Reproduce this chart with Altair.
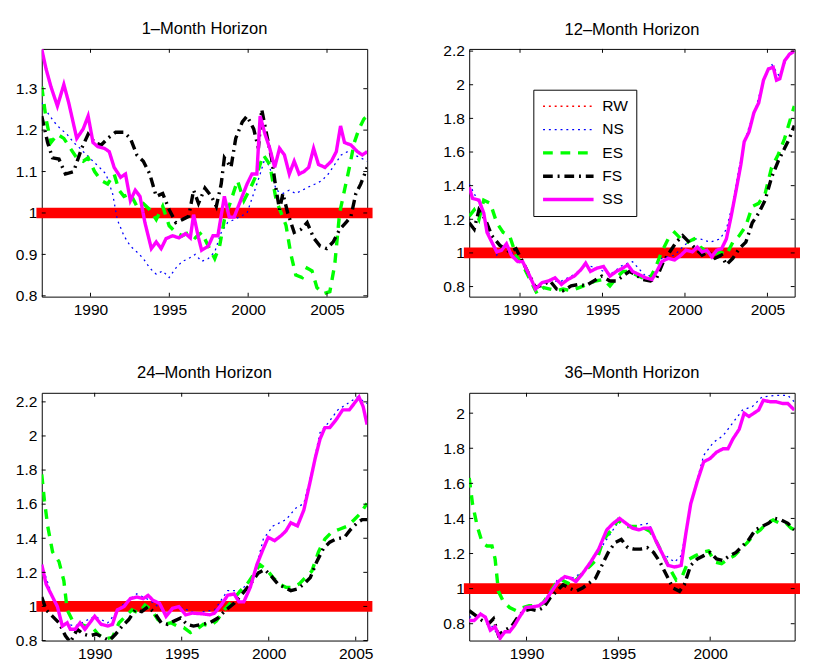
import altair as alt
import pandas as pd

FONT = "Liberation Sans"

SERIES = ["RW", "NS", "ES", "FS", "SS"]
COLORS = ["#ff0000", "#0000ff", "#00ff00", "#000000", "#ff00ff"]
DASHES = [[2, 4], [2, 4], [10, 8], [10, 5, 2, 5], [1, 0]]
WIDTHS = [1.4, 1.3, 3.5, 3.5, 3.5]

TITLES = ["1\u2013Month Horizon", "12\u2013Month Horizon", "24\u2013Month Horizon", "36\u2013Month Horizon"]
TITLE_DY = [0, 5.75, 0, 0]
X_DOMAINS = [[1986.91, 2007.55], [1986.92, 2006.65], [1986.96, 2005.66], [1986.88, 2004.6]]
Y_DOMAINS = [[0.798, 1.396], [0.74, 2.213], [0.8, 2.253], [0.704, 2.116]]
X_TICKS = [[1990, 1995, 2000, 2005], [1990, 1995, 2000, 2005], [1990, 1995, 2000, 2005], [1990, 1995, 2000]]
Y_TICKS = [
    [0.8, 0.9, 1.0, 1.1, 1.2, 1.3],
    [0.8, 1.0, 1.2, 1.4, 1.6, 1.8, 2.0, 2.2],
    [0.8, 1.0, 1.2, 1.4, 1.6, 1.8, 2.0, 2.2],
    [0.8, 1.0, 1.2, 1.4, 1.6, 1.8, 2.0],
]

# ---------------- 1-Month horizon ----------------
H1_RW = [(1986.91, 1.0), (2007.55, 1.0)]
H1_NS = [(1986.91, 1.266), (1987.28, 1.242), (1987.69, 1.22), (1988.1, 1.203), (1988.51, 1.19), (1988.93, 1.17),
         (1989.34, 1.156), (1989.75, 1.14), (1990.16, 1.125), (1990.57, 1.11), (1990.98, 1.094), (1991.4, 1.047),
         (1991.7, 0.984), (1992.12, 0.945), (1992.53, 0.92), (1992.94, 0.906), (1993.35, 0.89), (1993.76, 0.867),
         (1994.17, 0.852), (1994.58, 0.86), (1994.99, 0.844), (1995.41, 0.867), (1995.82, 0.883), (1996.23, 0.89),
         (1996.64, 0.90), (1997.05, 0.883), (1997.47, 0.89), (1997.88, 0.906), (1998.29, 0.953), (1998.7, 0.977),
         (1999.11, 0.984), (1999.52, 0.992), (1999.93, 1.0), (2000.35, 1.047), (2000.76, 1.094), (2001.07, 1.133),
         (2001.37, 1.11), (2001.78, 1.055), (2002.2, 1.047), (2002.61, 1.055), (2003.02, 1.047), (2003.43, 1.055),
         (2003.84, 1.063), (2004.25, 1.07), (2004.67, 1.078), (2005.08, 1.094), (2005.49, 1.117), (2005.9, 1.14),
         (2006.31, 1.148), (2006.73, 1.14), (2007.14, 1.133), (2007.55, 1.125)]
H1_ES = [(1986.91, 1.305), (1987.18, 1.227), (1987.49, 1.17), (1987.9, 1.19), (1988.31, 1.18), (1988.72, 1.156),
         (1989.13, 1.133), (1989.54, 1.125), (1989.85, 1.133), (1990.26, 1.10), (1990.68, 1.078), (1991.09, 1.07),
         (1991.5, 1.094), (1991.81, 1.055), (1992.12, 1.04), (1992.53, 1.047), (1992.94, 1.016), (1993.35, 1.023),
         (1993.76, 1.008), (1994.17, 0.984), (1994.58, 1.016), (1994.99, 0.969), (1995.41, 0.953), (1995.82, 0.945),
         (1996.23, 0.953), (1996.64, 0.94), (1997.05, 0.953), (1997.47, 0.92), (1997.88, 0.89), (1998.19, 0.92),
         (1998.49, 0.984), (1998.91, 1.03), (1999.32, 1.078), (1999.73, 1.03), (2000.14, 1.06), (2000.55, 1.094),
         (2000.96, 1.14), (2001.37, 1.117), (2001.78, 1.03), (2002.09, 1.0), (2002.4, 0.97), (2002.71, 0.90),
         (2003.02, 0.85), (2003.43, 0.844), (2003.74, 0.867), (2004.05, 0.86), (2004.36, 0.82), (2004.77, 0.805),
         (2005.18, 0.81), (2005.49, 0.875), (2005.8, 1.0), (2006.11, 1.055), (2006.42, 1.11), (2006.73, 1.17),
         (2007.03, 1.203), (2007.34, 1.227), (2007.55, 1.234)]
H1_FS = [(1986.91, 1.234), (1987.28, 1.17), (1987.59, 1.133), (1988.0, 1.13), (1988.41, 1.094), (1988.93, 1.10),
         (1989.44, 1.156), (1989.85, 1.19), (1990.26, 1.17), (1990.68, 1.164), (1991.09, 1.18), (1991.6, 1.195),
         (1992.12, 1.195), (1992.53, 1.18), (1992.94, 1.14), (1993.35, 1.125), (1993.76, 1.094), (1994.17, 1.04),
         (1994.58, 1.047), (1994.99, 1.008), (1995.41, 0.977), (1995.82, 0.984), (1996.23, 0.992), (1996.54, 1.055),
         (1996.85, 1.023), (1997.26, 1.06), (1997.67, 1.04), (1997.98, 1.016), (1998.29, 1.07), (1998.49, 1.133),
         (1998.91, 1.11), (1999.21, 1.18), (1999.63, 1.22), (1999.93, 1.234), (2000.35, 1.203), (2000.65, 1.156),
         (2000.86, 1.25), (2001.17, 1.19), (2001.48, 1.133), (2001.78, 1.055), (2001.99, 1.008), (2002.2, 1.047),
         (2002.51, 1.0), (2002.92, 0.953), (2003.33, 0.96), (2003.74, 0.977), (2004.15, 0.94), (2004.56, 0.92),
         (2004.98, 0.914), (2005.39, 0.93), (2005.8, 0.96), (2006.21, 0.977), (2006.52, 0.992), (2006.83, 1.047),
         (2007.14, 1.07), (2007.55, 1.11)]
H1_SS = [(1986.91, 1.395), (1987.18, 1.348), (1987.49, 1.305), (1987.9, 1.258), (1988.31, 1.31), (1988.62, 1.266),
         (1989.13, 1.18), (1989.54, 1.203), (1989.85, 1.234), (1990.16, 1.17), (1990.47, 1.16), (1990.88, 1.156),
         (1991.19, 1.148), (1991.5, 1.11), (1991.91, 1.086), (1992.22, 1.094), (1992.53, 1.03), (1992.84, 1.055),
         (1993.14, 1.04), (1993.45, 0.977), (1993.86, 0.914), (1994.17, 0.93), (1994.48, 0.914), (1994.79, 0.938),
         (1995.2, 0.945), (1995.61, 0.94), (1996.03, 0.95), (1996.33, 0.94), (1996.54, 0.996), (1996.85, 0.94),
         (1997.05, 0.91), (1997.47, 0.92), (1997.77, 0.945), (1998.08, 0.945), (1998.49, 1.04), (1998.8, 0.99),
         (1999.11, 0.99), (1999.52, 1.03), (1999.93, 1.07), (2000.24, 1.094), (2000.55, 1.094), (2000.76, 1.234),
         (2001.07, 1.19), (2001.37, 1.156), (2001.68, 1.11), (2001.99, 1.156), (2002.3, 1.14), (2002.61, 1.094),
         (2002.92, 1.125), (2003.23, 1.094), (2003.54, 1.10), (2003.84, 1.11), (2004.15, 1.156), (2004.46, 1.117),
         (2004.87, 1.11), (2005.28, 1.125), (2005.59, 1.148), (2005.86, 1.21), (2006.11, 1.17), (2006.52, 1.164),
         (2006.93, 1.148), (2007.24, 1.14), (2007.55, 1.148)]

# ---------------- 12-Month horizon ----------------
H12_RW = [(1986.92, 1.0), (2006.65, 1.0)]
H12_NS = [(1986.92, 1.41), (1987.22, 1.353), (1987.8, 1.237), (1988.2, 1.083), (1988.59, 0.987), (1989.18, 1.045),
          (1989.76, 0.968), (1990.35, 0.91), (1990.94, 0.794), (1991.73, 0.833), (1992.51, 0.833), (1993.29, 0.871),
          (1993.98, 0.929), (1994.67, 0.91), (1995.45, 0.871), (1996.24, 0.929), (1996.82, 0.948), (1997.61, 0.862),
          (1998.2, 0.871), (1998.59, 0.968), (1999.37, 0.987), (1999.96, 1.045), (2000.45, 1.083), (2000.94, 1.083),
          (2001.53, 1.064), (2002.12, 1.083), (2002.51, 1.141), (2002.9, 1.295), (2003.29, 1.507), (2003.78, 1.719),
          (2004.27, 1.853), (2004.76, 2.027), (2005.25, 2.123), (2005.75, 2.046), (2006.24, 2.181), (2006.63, 2.2)]
H12_ES = [(1986.92, 1.218), (1987.22, 1.256), (1987.51, 1.199), (1987.8, 1.314), (1988.2, 1.295), (1988.59, 1.179),
          (1988.98, 1.122), (1989.37, 1.102), (1989.76, 0.987), (1990.16, 0.929), (1990.55, 0.852), (1991.04, 0.756),
          (1991.43, 0.794), (1991.82, 0.785), (1992.22, 0.775), (1992.61, 0.785), (1993.1, 0.775), (1993.59, 0.794),
          (1994.08, 0.813), (1994.57, 0.833), (1995.06, 0.842), (1995.45, 0.804), (1995.84, 0.852), (1996.24, 0.89),
          (1996.63, 0.89), (1997.02, 0.871), (1997.41, 0.852), (1997.8, 0.833), (1998.2, 0.91), (1998.59, 1.006),
          (1998.98, 1.083), (1999.37, 1.122), (1999.76, 1.083), (2000.16, 1.064), (2000.55, 1.083), (2000.94, 1.035),
          (2001.33, 1.006), (2001.73, 0.987), (2002.12, 1.006), (2002.51, 0.987), (2002.9, 1.064), (2003.29, 1.102),
          (2003.69, 1.16), (2004.08, 1.276), (2004.47, 1.295), (2004.86, 1.353), (2005.25, 1.507), (2005.65, 1.584),
          (2006.04, 1.68), (2006.33, 1.776), (2006.63, 1.873)]
H12_FS = [(1986.92, 1.179), (1987.22, 1.141), (1987.51, 1.256), (1987.9, 1.199), (1988.29, 1.102), (1988.78, 1.045),
          (1989.37, 1.006), (1989.76, 1.025), (1990.16, 0.948), (1990.55, 0.871), (1990.94, 0.794), (1991.43, 0.813),
          (1991.82, 0.833), (1992.22, 0.785), (1992.61, 0.775), (1993.1, 0.804), (1993.59, 0.813), (1993.98, 0.804),
          (1994.47, 0.833), (1994.96, 0.862), (1995.45, 0.833), (1995.84, 0.833), (1996.24, 0.862), (1996.63, 0.89),
          (1997.02, 0.871), (1997.41, 0.842), (1997.9, 0.833), (1998.29, 0.852), (1998.69, 0.948), (1999.08, 1.006),
          (1999.47, 1.064), (1999.86, 1.102), (2000.25, 1.064), (2000.65, 1.025), (2001.04, 0.987), (2001.43, 1.006),
          (2001.82, 0.968), (2002.22, 0.987), (2002.51, 0.929), (2002.9, 0.968), (2003.29, 1.025), (2003.69, 1.064),
          (2004.08, 1.179), (2004.47, 1.237), (2004.86, 1.314), (2005.25, 1.449), (2005.65, 1.545), (2006.04, 1.622),
          (2006.33, 1.68), (2006.63, 1.757)]
H12_SS = [(1986.92, 1.391), (1987.12, 1.324), (1987.51, 1.314), (1987.8, 1.237), (1988.0, 1.122), (1988.29, 1.064),
          (1988.59, 1.006), (1988.88, 1.016), (1989.18, 1.054), (1989.47, 0.987), (1989.86, 0.948), (1990.16, 0.948),
          (1990.55, 0.871), (1990.94, 0.785), (1991.33, 0.823), (1991.73, 0.833), (1992.12, 0.852), (1992.51, 0.813),
          (1992.9, 0.842), (1993.29, 0.862), (1993.69, 0.90), (1993.98, 0.939), (1994.27, 0.89), (1994.67, 0.91),
          (1995.06, 0.919), (1995.45, 0.862), (1995.84, 0.89), (1996.24, 0.91), (1996.53, 0.929), (1996.82, 0.89),
          (1997.22, 0.871), (1997.61, 0.852), (1998.0, 0.842), (1998.29, 0.89), (1998.59, 0.948), (1998.98, 0.968),
          (1999.37, 0.958), (1999.76, 0.987), (2000.06, 1.016), (2000.45, 1.006), (2000.75, 1.035), (2001.04, 1.006),
          (2001.33, 1.016), (2001.63, 0.977), (2001.92, 1.016), (2002.22, 1.025), (2002.51, 1.083), (2002.8, 1.218),
          (2003.1, 1.372), (2003.39, 1.526), (2003.59, 1.661), (2003.88, 1.719), (2004.18, 1.834), (2004.47, 1.892),
          (2004.76, 2.027), (2005.06, 2.094), (2005.35, 2.104), (2005.55, 2.027), (2005.75, 2.036), (2006.04, 2.142),
          (2006.33, 2.181), (2006.63, 2.2)]

# ---------------- 24-Month horizon ----------------
H24_RW = [(1986.96, 1.0), (2005.65, 1.0)]
H24_NS = [(1986.96, 1.245), (1987.58, 1.055), (1988.14, 0.904), (1988.88, 0.885), (1990.0, 0.942), (1990.75, 0.904),
          (1991.68, 1.018), (1992.42, 1.074), (1993.17, 1.036), (1994.1, 0.961), (1994.84, 0.999), (1995.78, 0.961),
          (1996.89, 0.98), (1997.64, 1.093), (1998.38, 1.093), (1999.13, 1.169), (1999.69, 1.396), (2000.25, 1.472),
          (2000.99, 1.509), (2001.55, 1.576), (2002.02, 1.604), (2002.48, 1.793), (2002.95, 2.02), (2003.42, 2.077),
          (2003.97, 2.153), (2004.53, 2.19), (2005.09, 2.228), (2005.65, 2.19)]
H24_ES = [(1986.96, 1.774), (1987.11, 1.623), (1987.3, 1.472), (1987.58, 1.32), (1987.95, 1.263), (1988.23, 1.15),
          (1988.42, 0.98), (1988.7, 0.923), (1989.07, 0.904), (1989.44, 0.885), (1989.81, 0.885), (1990.19, 0.838),
          (1990.56, 0.809), (1991.02, 0.819), (1991.4, 0.904), (1991.77, 0.942), (1992.14, 0.98), (1992.52, 0.961),
          (1992.89, 1.008), (1993.26, 0.98), (1993.63, 0.923), (1994.01, 0.895), (1994.38, 0.904), (1994.75, 0.885),
          (1995.12, 0.876), (1995.5, 0.847), (1995.87, 0.866), (1996.24, 0.895), (1996.61, 0.885), (1996.99, 0.914),
          (1997.45, 0.98), (1997.92, 1.036), (1998.38, 1.093), (1998.76, 1.131), (1999.13, 1.188), (1999.5, 1.245),
          (1999.88, 1.216), (2000.25, 1.169), (2000.62, 1.131), (2000.99, 1.112), (2001.37, 1.112), (2001.74, 1.131),
          (2002.11, 1.169), (2002.48, 1.207), (2002.86, 1.32), (2003.23, 1.396), (2003.6, 1.434), (2004.07, 1.453),
          (2004.53, 1.472), (2004.91, 1.509), (2005.28, 1.547), (2005.65, 1.604)]
H24_FS = [(1986.96, 1.055), (1987.21, 0.98), (1987.58, 0.942), (1987.95, 0.904), (1988.32, 0.828), (1988.6, 0.79),
          (1989.0, 0.866), (1989.35, 0.838), (1989.72, 0.828), (1990.09, 0.838), (1990.47, 0.819), (1990.84, 0.80),
          (1991.21, 0.838), (1991.58, 0.885), (1991.96, 0.923), (1992.33, 0.98), (1992.7, 0.97), (1993.07, 0.999),
          (1993.45, 0.961), (1993.82, 0.904), (1994.19, 0.895), (1994.56, 0.914), (1994.94, 0.932), (1995.31, 0.895),
          (1995.68, 0.885), (1996.15, 0.895), (1996.61, 0.904), (1997.08, 0.932), (1997.55, 0.98), (1998.01, 1.018),
          (1998.48, 1.074), (1998.94, 1.131), (1999.41, 1.197), (1999.78, 1.216), (2000.15, 1.178), (2000.53, 1.131),
          (2000.9, 1.112), (2001.27, 1.093), (2001.65, 1.103), (2002.02, 1.131), (2002.39, 1.169), (2002.76, 1.263),
          (2003.14, 1.339), (2003.51, 1.377), (2003.88, 1.396), (2004.35, 1.405), (2004.72, 1.453), (2005.09, 1.491),
          (2005.37, 1.509), (2005.65, 1.509)]
H24_SS = [(1986.96, 1.245), (1987.21, 1.131), (1987.58, 1.055), (1987.86, 0.999), (1988.14, 0.885), (1988.42, 0.904),
          (1988.6, 0.866), (1988.88, 0.866), (1989.16, 0.904), (1989.44, 0.866), (1989.72, 0.904), (1990.0, 0.942),
          (1990.37, 0.895), (1990.75, 0.885), (1991.02, 0.895), (1991.3, 0.98), (1991.68, 0.999), (1992.05, 1.046),
          (1992.42, 1.055), (1992.79, 1.046), (1993.07, 1.065), (1993.35, 1.036), (1993.73, 1.018), (1994.1, 0.942),
          (1994.47, 0.989), (1994.84, 0.999), (1995.22, 0.951), (1995.59, 0.961), (1996.15, 0.957), (1996.61, 0.951),
          (1996.89, 0.961), (1997.27, 1.008), (1997.64, 1.065), (1998.01, 1.074), (1998.29, 1.027), (1998.57, 1.027),
          (1998.94, 1.112), (1999.32, 1.245), (1999.69, 1.339), (1999.97, 1.405), (2000.34, 1.386), (2000.71, 1.415),
          (2000.99, 1.443), (2001.27, 1.491), (2001.65, 1.472), (2002.02, 1.566), (2002.39, 1.736), (2002.67, 1.869),
          (2002.95, 1.982), (2003.23, 2.049), (2003.51, 2.049), (2003.88, 2.096), (2004.25, 2.153), (2004.63, 2.153),
          (2004.91, 2.19), (2005.19, 2.228), (2005.43, 2.171), (2005.65, 2.067)]

# ---------------- 36-Month horizon ----------------
H36_RW = [(1986.88, 1.0), (2004.6, 1.0)]
H36_NS = [(1986.88, 0.837), (1987.68, 0.855), (1988.38, 0.745), (1989.08, 0.763), (1989.96, 0.892), (1990.85, 0.911),
          (1991.73, 1.058), (1992.43, 1.058), (1993.13, 1.095), (1994.01, 1.225), (1995.07, 1.391), (1995.77, 1.354),
          (1996.65, 1.372), (1997.36, 1.206), (1998.06, 1.151), (1998.42, 1.188), (1998.77, 1.372), (1999.12, 1.557),
          (1999.65, 1.76), (2000.18, 1.834), (2000.7, 1.871), (2001.23, 1.945), (2001.76, 2.018), (2002.29, 2.037),
          (2002.82, 2.092), (2003.52, 2.101), (2004.23, 2.101), (2004.58, 2.065)]
H36_ES = [(1986.88, 1.631), (1987.06, 1.483), (1987.32, 1.354), (1987.59, 1.262), (1987.85, 1.243), (1988.12, 1.243),
          (1988.29, 1.169), (1988.47, 0.985), (1988.73, 0.929), (1989.08, 0.892), (1989.44, 0.874), (1989.79, 0.892),
          (1990.14, 0.902), (1990.49, 0.902), (1990.85, 0.911), (1991.2, 0.966), (1991.55, 1.022), (1991.81, 1.058),
          (1992.08, 1.04), (1992.43, 1.022), (1992.78, 1.058), (1993.13, 1.095), (1993.49, 1.132), (1993.84, 1.169),
          (1994.19, 1.28), (1994.63, 1.335), (1994.98, 1.391), (1995.33, 1.354), (1995.69, 1.354), (1996.04, 1.354),
          (1996.39, 1.345), (1996.74, 1.326), (1997.1, 1.262), (1997.45, 1.188), (1997.8, 1.114), (1998.15, 1.049),
          (1998.5, 1.077), (1998.86, 1.169), (1999.21, 1.188), (1999.56, 1.206), (1999.91, 1.215), (2000.26, 1.151),
          (2000.62, 1.142), (2000.97, 1.169), (2001.32, 1.188), (2001.67, 1.225), (2002.02, 1.262), (2002.38, 1.308),
          (2002.73, 1.335), (2003.08, 1.372), (2003.43, 1.391), (2003.79, 1.372), (2004.14, 1.372), (2004.4, 1.345),
          (2004.58, 1.335)]
H36_FS = [(1986.88, 0.874), (1987.24, 0.846), (1987.59, 0.818), (1987.94, 0.80), (1988.2, 0.828), (1988.47, 0.735),
          (1988.82, 0.763), (1989.17, 0.782), (1989.52, 0.837), (1989.88, 0.874), (1990.23, 0.883), (1990.58, 0.874),
          (1990.93, 0.892), (1991.29, 0.948), (1991.64, 0.985), (1991.99, 1.022), (1992.34, 1.003), (1992.69, 0.985),
          (1993.05, 1.003), (1993.4, 1.031), (1993.75, 1.058), (1994.1, 1.132), (1994.45, 1.206), (1994.81, 1.262),
          (1995.16, 1.28), (1995.51, 1.234), (1995.86, 1.225), (1996.21, 1.225), (1996.57, 1.234), (1996.92, 1.206),
          (1997.27, 1.151), (1997.62, 1.077), (1997.98, 1.003), (1998.33, 0.985), (1998.59, 1.022), (1998.94, 1.132),
          (1999.3, 1.169), (1999.65, 1.188), (2000.0, 1.206), (2000.35, 1.169), (2000.7, 1.16), (2001.06, 1.188),
          (2001.41, 1.206), (2001.76, 1.243), (2002.11, 1.28), (2002.46, 1.335), (2002.82, 1.354), (2003.17, 1.372),
          (2003.52, 1.40), (2003.87, 1.391), (2004.23, 1.372), (2004.58, 1.335)]
H36_SS = [(1986.88, 0.818), (1987.15, 0.818), (1987.5, 0.855), (1987.76, 0.837), (1988.03, 0.763), (1988.29, 0.782),
          (1988.56, 0.717), (1988.82, 0.754), (1989.08, 0.754), (1989.35, 0.791), (1989.61, 0.837), (1989.96, 0.892),
          (1990.32, 0.896), (1990.67, 0.902), (1991.02, 0.929), (1991.37, 0.985), (1991.73, 1.04), (1992.08, 1.068),
          (1992.43, 1.058), (1992.69, 1.04), (1993.05, 1.086), (1993.49, 1.151), (1993.93, 1.225), (1994.37, 1.335),
          (1994.72, 1.372), (1995.07, 1.40), (1995.42, 1.372), (1995.77, 1.345), (1996.13, 1.335), (1996.39, 1.345),
          (1996.74, 1.345), (1997.01, 1.28), (1997.36, 1.206), (1997.71, 1.132), (1998.06, 1.123), (1998.42, 1.132),
          (1998.68, 1.317), (1998.94, 1.483), (1999.3, 1.612), (1999.65, 1.723), (2000.0, 1.742), (2000.35, 1.778),
          (2000.7, 1.797), (2000.97, 1.797), (2001.23, 1.852), (2001.58, 1.908), (2001.85, 2.0), (2002.11, 1.981),
          (2002.38, 2.0), (2002.64, 2.018), (2002.9, 2.074), (2003.26, 2.065), (2003.61, 2.065), (2003.96, 2.055),
          (2004.23, 2.055), (2004.58, 2.018)]

PANEL_DATA = [
    [H1_RW, H1_NS, H1_ES, H1_FS, H1_SS],
    [H12_RW, H12_NS, H12_ES, H12_FS, H12_SS],
    [H24_RW, H24_NS, H24_ES, H24_FS, H24_SS],
    [H36_RW, H36_NS, H36_ES, H36_FS, H36_SS],
]

W, H = 335, 255
TICK = 4


def panel(i, with_legend):
    xs = alt.Scale(domain=X_DOMAINS[i], nice=False, zero=False)
    ys = alt.Scale(domain=Y_DOMAINS[i], nice=False, zero=False)
    ax = alt.Axis(values=X_TICKS[i], format="d", tickSize=0, domain=False, grid=False,
                  labelFontSize=16, labelFont=FONT, labelColor="black", labelPadding=5,
                  labelFlush=False, labelOverlap=False)
    ay = alt.Axis(values=Y_TICKS[i], format="~g", tickSize=0, domain=False, grid=False,
                  labelFontSize=16, labelFont=FONT, labelColor="black", labelPadding=5,
                  labelFlush=False, labelOverlap=False)
    rows = []
    for s, pts in zip(SERIES, PANEL_DATA[i]):
        for k, (yr, v) in enumerate(pts):
            rows.append({"series": s, "year": yr, "value": v, "k": k})
    df = pd.DataFrame(rows)
    rw = df[df["series"] == "RW"]

    if with_legend:
        leg = alt.Legend(orient="none", legendX=66, legendY=42, title=None,
                         symbolType="stroke", symbolSize=2704, clipHeight=18, rowPadding=6,
                         labelFontSize=16, labelFont=FONT, labelColor="black", labelOffset=7,
                         padding=8, strokeColor="black", fillColor="white", cornerRadius=0)
    else:
        leg = None

    band = alt.Chart(rw).mark_line(color="#ff0000", strokeWidth=11, strokeCap="square").encode(
        x=alt.X("year:Q", scale=xs, axis=ax, title=None),
        y=alt.Y("value:Q", scale=ys, axis=ay, title=None),
    )
    lines = alt.Chart(df).mark_line(clip=True).encode(
        x=alt.X("year:Q", scale=xs, axis=ax, title=None),
        y=alt.Y("value:Q", scale=ys, axis=ay, title=None),
        color=alt.Color("series:N", scale=alt.Scale(domain=SERIES, range=COLORS), legend=leg),
        strokeDash=alt.StrokeDash("series:N", scale=alt.Scale(domain=SERIES, range=DASHES), legend=leg),
        strokeWidth=alt.StrokeWidth("series:N", scale=alt.Scale(type="ordinal", domain=SERIES, range=WIDTHS),
                                    legend=leg),
        order="k:Q",
    )
    ytdf = pd.DataFrame({"value": Y_TICKS[i]})
    xtdf = pd.DataFrame({"year": X_TICKS[i]})
    yl = alt.Chart(ytdf).mark_rule(color="black", strokeWidth=1).encode(
        y=alt.Y("value:Q", scale=ys, axis=ay, title=None), x=alt.value(0), x2=alt.value(TICK))
    yr_ = alt.Chart(ytdf).mark_rule(color="black", strokeWidth=1).encode(
        y=alt.Y("value:Q", scale=ys, axis=ay, title=None), x=alt.value(W - TICK), x2=alt.value(W))
    xb = alt.Chart(xtdf).mark_rule(color="black", strokeWidth=1).encode(
        x=alt.X("year:Q", scale=xs, axis=ax, title=None), y=alt.value(H - TICK), y2=alt.value(H))
    xt = alt.Chart(xtdf).mark_rule(color="black", strokeWidth=1).encode(
        x=alt.X("year:Q", scale=xs, axis=ax, title=None), y=alt.value(0), y2=alt.value(TICK))

    return alt.layer(band, lines, yl, yr_, xb, xt).properties(
        width=W, height=H,
        title=alt.TitleParams(text=TITLES[i], fontSize=17, font=FONT, fontWeight="normal",
                              color="black", offset=10.5, dy=TITLE_DY[i], anchor="middle"),
    )


chart = alt.concat(
    panel(0, False), panel(1, True), panel(2, False), panel(3, False),
    columns=2, spacing={"row": 99, "column": 105}, bounds="flush",
).resolve_scale(
    color="independent", strokeDash="independent", strokeWidth="independent"
).properties(
    padding={"left": 15, "top": 10.5, "right": 0, "bottom": 0},
    background="white",
).configure_view(stroke="black", strokeWidth=1)

chart.save("out.html", embed_options={"renderer": "svg", "actions": False})
